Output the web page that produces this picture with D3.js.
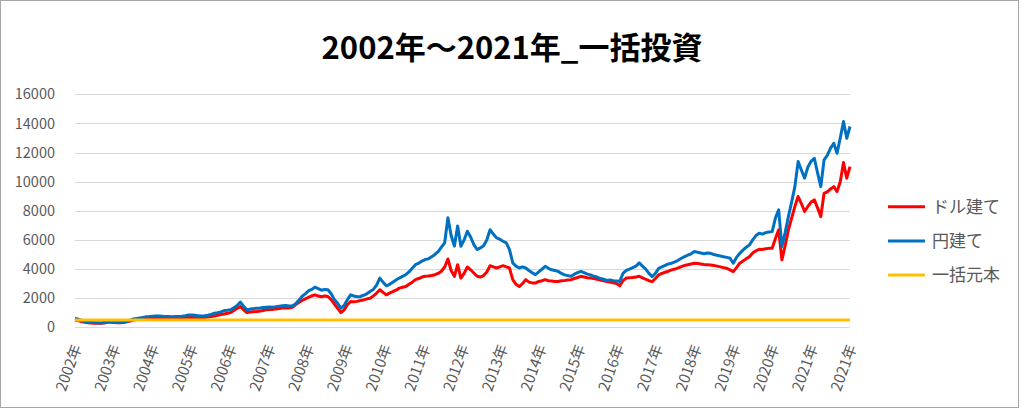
<!DOCTYPE html>
<html><head><meta charset="utf-8">
<script src="https://cdn.jsdelivr.net/npm/d3@7"></script>
<style>
html,body{margin:0;padding:0;background:#fff;}
text{font-family:"Noto Sans CJK JP","Noto Sans",sans-serif;}
</style></head>
<body>
<svg id="c" width="1024" height="409"></svg>
<script>
const title = "2002年～2021年_一括投資";
const seriesNames = ["ドル建て", "円建て", "一括元本"];
const seriesColors = ["#FF0000", "#0070C0", "#FFC000"];
const yTicks = [0, 2000, 4000, 6000, 8000, 10000, 12000, 14000, 16000];
const xLabels = ["2002年","2003年","2004年","2005年","2006年","2007年","2008年","2009年","2010年","2011年","2012年","2013年","2014年","2015年","2016年","2017年","2018年","2019年","2020年","2021年","2021年"];

// monthly values Jan 2002 - Dec 2021
const dollarBased = [
 500,460,400,340,320,300,280,276,270,300,345,340,
 330,320,320,330,380,430,500,530,570,600,620,620,
 625,620,620,610,600,600,610,615,620,640,670,690,
 680,670,667,660,680,700,740,780,830,880,920,960,
 1010,1150,1300,1430,1200,1010,1050,1070,1080,1120,1160,1200,
 1220,1230,1260,1290,1320,1350,1330,1380,1550,1700,1840,1950,
 2050,2150,2230,2150,2100,2150,2116,1900,1600,1310,1010,1200,
 1550,1770,1750,1780,1840,1880,1950,2000,2150,2350,2580,2400,
 2230,2350,2450,2550,2690,2750,2800,2950,3100,3270,3350,3450,
 3500,3520,3560,3610,3700,3850,4140,4690,3900,3500,4300,3380,
 3700,4140,3950,3730,3500,3450,3550,3800,4230,4150,4070,4150,
 4230,4150,4070,3270,2950,2800,3000,3270,3100,3050,3036,3150,
 3200,3270,3200,3180,3150,3150,3200,3220,3250,3270,3350,3420,
 3500,3450,3400,3380,3350,3300,3250,3200,3150,3100,3050,3000,
 2850,3200,3380,3400,3420,3450,3500,3400,3300,3200,3140,3350,
 3600,3700,3780,3850,3940,4000,4080,4170,4250,4300,4350,4400,
 4380,4350,4320,4300,4280,4250,4200,4150,4100,4050,3940,3820,
 4100,4400,4550,4700,4850,5100,5250,5360,5350,5400,5420,5430,
 6100,6690,4630,5600,6690,7500,8290,8980,8500,7950,8300,8600,
 8750,8200,7600,9200,9300,9500,9660,9320,10000,11310,10240,11040
];
const yenBased = [
 620,560,470,400,380,350,330,320,300,340,390,380,
 360,340,350,360,420,480,575,600,640,680,720,736,
 760,770,780,760,750,740,730,740,736,760,800,850,
 840,820,800,780,800,830,880,966,1000,1060,1150,1170,
 1200,1350,1500,1725,1450,1200,1250,1280,1310,1330,1360,1380,
 1400,1380,1420,1450,1480,1500,1460,1470,1600,1850,2116,2300,
 2500,2600,2760,2650,2550,2600,2576,2300,1900,1650,1310,1500,
 1900,2230,2150,2100,2116,2200,2300,2460,2600,2900,3380,3100,
 2850,2950,3100,3250,3380,3500,3610,3800,4050,4300,4400,4550,
 4650,4700,4850,5000,5200,5500,5800,7520,6300,5570,6950,5570,
 6000,6600,6200,5680,5340,5450,5600,6000,6700,6400,6140,6050,
 5910,5800,5340,4420,4200,4070,4150,4070,3900,3750,3610,3800,
 4000,4190,4050,3950,3900,3840,3700,3600,3550,3500,3650,3750,
 3840,3750,3650,3600,3500,3450,3350,3300,3220,3250,3200,3180,
 3150,3700,3910,4000,4100,4200,4420,4200,4000,3700,3480,3700,
 4050,4150,4250,4350,4400,4500,4600,4740,4850,4950,5050,5200,
 5150,5100,5050,5100,5080,5000,4950,4900,4850,4800,4740,4400,
 4800,5080,5300,5500,5660,6000,6300,6460,6400,6500,6550,6570,
 7500,8060,5540,6500,7600,8600,9660,11380,10800,10240,11000,11400,
 11610,10600,9660,11500,11800,12300,12640,11950,13000,14130,12980,13790
];
const principal = yenBased.map(() => 500);

const svg = d3.select("#c");
const plotLeft = 75, plotRight = 850, plotTop = 94.3, plotBottom = 327.3;

svg.append("rect").attr("x",0.5).attr("y",0.5).attr("width",1018).attr("height",407)
  .attr("fill","#fff").attr("stroke","#a6a6a6").attr("stroke-width",1);

svg.append("text").attr("x",512).attr("y",59).attr("text-anchor","middle")
  .attr("font-size",31).attr("font-weight","bold").attr("fill","#000").text(title);

const n = yenBased.length;
const x = d3.scaleLinear().domain([0, n-1]).range([plotLeft, plotRight]);
const y = d3.scaleLinear().domain([0, 16000]).range([plotBottom, plotTop]);

// grid
svg.append("g").selectAll("line").data(yTicks).join("line")
  .attr("x1",plotLeft).attr("x2",plotRight)
  .attr("y1",d=>Math.round(y(d))+0.5).attr("y2",d=>Math.round(y(d))+0.5)
  .attr("stroke","#d9d9d9").attr("stroke-width",1);

// y axis labels
const yAxis = d3.axisLeft(y).tickValues(yTicks).tickFormat(d3.format("d")).tickSize(0).tickPadding(0);
const ya = svg.append("g").attr("transform",`translate(55,0)`).call(yAxis);
ya.select(".domain").remove();
ya.selectAll("text").attr("font-size",14.5).attr("fill","#595959")
  .attr("font-family","'Noto Sans CJK JP','Noto Sans',sans-serif");

// x labels
const xl = d3.scaleLinear().domain([0, xLabels.length-1]).range([plotLeft, plotRight]);
svg.append("g").selectAll("text").data(xLabels).join("text")
  .attr("transform",(d,i)=>`translate(${xl(i)+2},345) rotate(-70)`)
  .attr("text-anchor","end").attr("dy","0.35em")
  .attr("font-size",15).attr("fill","#595959").text(d=>d);

const line = d3.line().x((d,i)=>x(i)).y(d=>y(d));
[dollarBased, yenBased, principal].forEach((s,k)=>{
  svg.append("path").datum(s).attr("d",line).attr("fill","none")
    .attr("stroke",seriesColors[k]).attr("stroke-width",3)
    .attr("stroke-linejoin","round");
});

// legend
const legY = [206.7, 241, 275];
seriesNames.forEach((nm,k)=>{
  svg.append("line").attr("x1",888).attr("x2",925).attr("y1",legY[k]).attr("y2",legY[k])
    .attr("stroke",seriesColors[k]).attr("stroke-width",3);
  svg.append("text").attr("x",932).attr("y",legY[k]).attr("dy","0.35em")
    .attr("font-size",17).attr("fill","#595959").text(nm);
});
</script>
</body></html>
